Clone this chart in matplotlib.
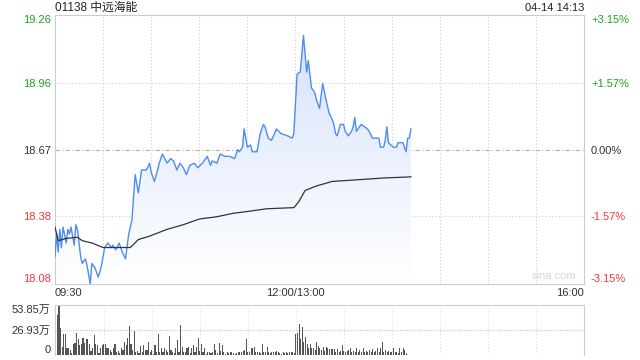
import numpy as np
import matplotlib.pyplot as plt
from matplotlib.patches import Polygon

plt.rcParams['font.family'] = ['Liberation Sans', 'Noto Sans CJK SC', 'DejaVu Sans']

# minutes since 09:30 (trading minutes, lunch break removed), price
price_t = [0, 1, 2, 3, 4, 5, 7, 8, 9, 10, 12, 13, 14, 16, 17, 19, 20, 22, 23, 25, 27, 29,
           31, 33, 35, 36, 38, 40, 42, 44, 46, 48, 50, 52, 54, 57, 59, 60, 62, 64, 65, 67,
           70, 72, 74, 76, 78, 80, 82, 84, 87, 89, 92, 95, 97, 98, 101, 103, 106, 109, 112,
           114, 115, 117, 118, 120, 122, 123, 126, 128, 130, 131, 133, 135, 137, 138, 141,
           145, 148, 149,
           150, 151, 153, 155, 157, 158, 160, 162, 163, 165, 167, 169, 171, 173, 174, 175,
           176, 178, 180, 181, 183, 185, 186, 187, 188, 190, 191, 195, 196, 198, 202, 203,
           205, 206, 207, 208, 211, 213, 214, 217, 219, 220, 221, 222]
price = [18.20, 18.30, 18.22, 18.32, 18.24, 18.33, 18.26, 18.32, 18.30, 18.33, 18.25, 18.34,
         18.32, 18.20, 18.17, 18.19, 18.16, 18.08, 18.17, 18.15, 18.11, 18.16,
         18.24, 18.26, 18.24, 18.25, 18.23, 18.26, 18.22, 18.19, 18.30, 18.36, 18.56, 18.48,
         18.58, 18.58, 18.61, 18.57, 18.53, 18.58, 18.61, 18.65,
         18.61, 18.63, 18.62, 18.58, 18.61, 18.59, 18.56, 18.60, 18.61, 18.59, 18.61, 18.64,
         18.60, 18.62, 18.61, 18.65, 18.64, 18.64, 18.63,
         18.67, 18.66, 18.68, 18.76, 18.68, 18.69, 18.66, 18.66, 18.74, 18.78, 18.77, 18.72,
         18.71, 18.74, 18.76, 18.74, 18.73, 18.72, 18.74,
         18.87, 19.00, 19.01, 19.17, 19.01, 19.06, 18.94, 18.92, 18.89, 18.85, 18.96, 18.89,
         18.83, 18.80, 18.78, 18.74, 18.73, 18.78, 18.78, 18.75, 18.73, 18.75, 18.77, 18.81,
         18.75, 18.77, 18.78, 18.76, 18.75, 18.72, 18.72, 18.68, 18.68, 18.71, 18.77, 18.70,
         18.68, 18.68, 18.70, 18.70, 18.66, 18.72, 18.72, 18.76]

avg_t = [0, 2, 7, 14, 17, 23, 30, 36, 47, 52, 59, 70, 80, 90, 101, 111, 122, 132, 149,
         152, 156, 163, 173, 184, 205, 222]
avg_price = [18.33, 18.27, 18.28, 18.285, 18.27, 18.26, 18.24, 18.24, 18.24, 18.275, 18.29,
             18.32, 18.34, 18.365, 18.375, 18.39, 18.40, 18.41, 18.415, 18.44, 18.49, 18.51,
             18.53, 18.535, 18.545, 18.55]

# volume per minute, in 万 shares
vol_am = [41.3, 43.1, 53.85, 28.7, 9.0, 22.3, 22.3, 7.2, 7.9, 5.4, 2.2, 11.5, 12.6, 23.3, 16.9,
          10.8, 11.5, 18.0, 12.6, 17.2, 17.2, 11.5, 4.3, 7.2, 21.5, 11.5, 10.8, 2.5, 7.2, 10.8,
          11.5, 11.5, 7.2, 7.9, 5.4, 2.9, 7.2, 11.5, 3.6, 4.3, 1.8, 7.9, 5.4, 14.4, 10.8, 18.7,
          31.2, 11.5, 5.4, 25.8, 3.6, 4.3, 2.2, 10.1, 3.6, 10.8, 5.4, 5.4, 14.4, 3.6, 5.4, 1.4,
          10.8, 3.6, 22.3, 3.6, 7.2, 3.6, 7.9, 5.4, 2.9, 20.8, 5.4, 3.6, 1.8, 7.2, 16.2, 3.6,
          32.3, 9.0, 3.6, 2.9, 7.9, 9.0, 2.5, 7.2, 10.8, 2.9, 9.0, 18.7, 4.3, 11.5, 3.6, 7.2,
          1.4, 3.6, 2.9, 1.8, 3.6, 11.5, 5.4, 1.8, 12.6, 4.3, 10.8, 2.9, 0.7, 2.9, 1.8, 2.9,
          3.6, 2.2, 1.1, 2.5, 2.9, 3.6, 2.9, 4.3, 5.4, 17.2, 3.6, 2.9, 7.2, 7.9, 9.0, 2.9, 3.6,
          2.9, 1.8, 11.5, 2.9, 3.6, 9.0, 2.9, 1.8, 2.9, 2.9, 3.6, 4.3, 2.9, 1.8, 0.7, 2.9, 1.8,
          2.9, 1.8, 3.6, 2.9, 2.9, 1.8, 4.3]
vol_pm = [22.3, 23.3, 33.0, 17.2, 30.5, 14.4, 19.7, 11.5, 7.2, 11.5, 7.2, 7.9, 5.4, 14.4, 10.1,
          7.9, 5.4, 9.0, 4.3, 9.0, 7.2, 6.5, 6.5, 6.5, 6.5, 3.6, 6.5, 2.9, 4.3, 10.8, 4.3, 3.6,
          4.3, 5.4, 7.9, 3.6, 4.3, 2.9, 7.9, 3.6, 5.4, 2.9, 7.2, 3.6, 4.3, 2.9, 5.4, 3.6, 6.5,
          3.6, 4.3, 7.9, 2.9, 7.2, 14.4, 3.6, 5.4, 3.6, 4.3, 2.9, 3.6, 7.2, 2.9, 3.6, 1.8, 7.2,
          2.9, 7.9, 5.4, 1.8]

prev_close = 18.67
price_ticks = [18.08, 18.38, 18.67, 18.96, 19.26]
price_labels = ['18.08', '18.38', '18.67', '18.96', '19.26']
pct_labels = ['-3.15%', '-1.57%', '0.00%', '+1.57%', '+3.15%']
tick_colors = ['#f03b3b', '#f03b3b', '#333333', '#1aa51a', '#1aa51a']
vol_ticks = [0, 26.93, 53.85]
vol_labels = ['0', '26.93万', '53.85万']
time_ticks = [0, 150, 330]
time_labels = ['09:30', '12:00/13:00', '16:00']

fig = plt.figure(figsize=(6.4, 3.6), dpi=100)
W, H = 640, 360
ax = fig.add_axes([55 / W, 1 - 284 / H, 529 / W, 269 / H])
axv = fig.add_axes([55 / W, 1 - 355 / H, 529 / W, 50 / H])

ax.set_xlim(0, 330)
ax.set_ylim(price_ticks[0], price_ticks[-1])

# gradient fill under price line
t = np.array(price_t)
p = np.array(price)
verts = np.column_stack([np.r_[t[0], t, t[-1]], np.r_[price_ticks[0], p, price_ticks[0]]])
poly = Polygon(verts, closed=True, facecolor='none', edgecolor='none')
ax.add_patch(poly)
grad = np.linspace(1, 0, 256).reshape(-1, 1)
top_c = np.array([0.83, 0.88, 0.98])
bot_c = np.array([1.0, 1.0, 1.0])
img = top_c * grad[..., None] + bot_c * (1 - grad[..., None])
im = ax.imshow(img, extent=[0, 330, price_ticks[0], price_ticks[-1]], aspect='auto',
               origin='upper', zorder=1)
im.set_clip_path(poly)

for m in range(30, 330, 30):
    ax.axvline(m, color='#d0d0d0', linestyle=(0, (1, 2)), linewidth=0.8, zorder=0.5)
for y in [price_ticks[1], price_ticks[3]]:
    ax.axhline(y, color='#d0d0d0', linestyle=(0, (1, 2)), linewidth=0.8, zorder=0.5)
ax.axhline(prev_close, color='#b0b0b0', linestyle=(0, (4, 2, 1, 2)), linewidth=0.8, zorder=0.5)

ax.plot(price_t, price, color='#4d8df0', linewidth=1.0, zorder=3)
ax.plot(avg_t, avg_price, color='#333333', linewidth=0.9, zorder=3)

for s in ax.spines.values():
    s.set_color('#cccccc')
    s.set_linewidth(0.8)

ax.set_yticks(price_ticks)
ax.set_yticklabels(price_labels, fontsize=8)
ax.tick_params(axis='y', length=0, pad=3)
for lab, c in zip(ax.get_yticklabels(), tick_colors):
    lab.set_color(c)
ax.get_yticklabels()[0].set_va('bottom')
ax.get_yticklabels()[-1].set_va('top')

ax.set_xticks(time_ticks)
ax.set_xticklabels(time_labels, fontsize=8, color='#333333')
ax.tick_params(axis='x', length=0, pad=3)
xl = ax.get_xticklabels()
xl[0].set_ha('left')
xl[-1].set_ha('right')

ax2 = ax.twinx()
ax2.set_ylim(ax.get_ylim())
ax2.set_yticks(price_ticks)
ax2.set_yticklabels(pct_labels, fontsize=8)
ax2.tick_params(axis='y', length=0, pad=5)
for lab, c in zip(ax2.get_yticklabels(), tick_colors):
    lab.set_color(c)
ax2.get_yticklabels()[0].set_va('bottom')
ax2.get_yticklabels()[-1].set_va('top')
for s in ax2.spines.values():
    s.set_visible(False)

ax.text(0.985, 0.01, 'sina.com', transform=ax.transAxes, ha='right', va='bottom',
        fontsize=8, color='#d5d5d5')

fig.text(55 / W, 1 - 8 / H, '01138 中远海能', fontsize=8.5, color='#222222',
         ha='left', va='center')
fig.text(584 / W, 1 - 8 / H, '04-14 14:13', fontsize=8, color='#222222',
         ha='right', va='center')

# volume
vm = list(range(len(vol_am))) + list(range(150, 150 + len(vol_pm)))
axv.bar(vm, vol_am + vol_pm, width=0.7, color='#555555', linewidth=0)
axv.set_xlim(-0.5, 330)
axv.set_ylim(0, vol_ticks[-1])
for m in range(30, 330, 30):
    axv.axvline(m, color='#dddddd', linestyle=(0, (1, 2)), linewidth=0.8, zorder=0)
axv.axhline(vol_ticks[1], color='#cccccc', linestyle=(0, (1, 1)), linewidth=0.8, zorder=0)
axv.spines['top'].set_linestyle((0, (1, 1)))
for s in axv.spines.values():
    s.set_color('#cccccc')
    s.set_linewidth(0.8)
axv.spines['bottom'].set_visible(False)
axv.set_xticks([])
axv.set_yticks(vol_ticks)
axv.set_yticklabels(vol_labels, fontsize=8, color='#333333')
axv.tick_params(axis='y', length=0, pad=3)
vl = axv.get_yticklabels()
vl[0].set_va('bottom')
vl[-1].set_va('top')

fig.savefig('out.png', dpi=100)
